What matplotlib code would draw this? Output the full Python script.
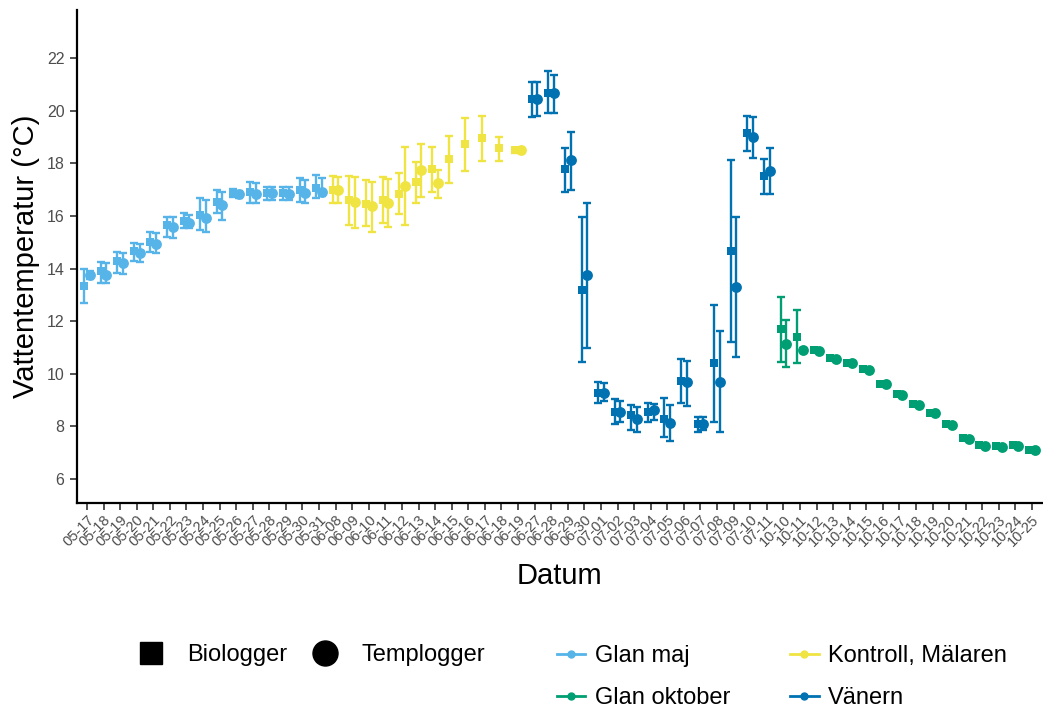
import numpy as np
import matplotlib
matplotlib.use("Agg")
import matplotlib.pyplot as plt
from matplotlib.lines import Line2D

plt.rcParams['font.family'] = ['Liberation Sans', 'DejaVu Sans']

dates = ["05-17", "05-18", "05-19", "05-20", "05-21", "05-22", "05-23", "05-24",
         "05-25", "05-26", "05-27", "05-28", "05-29", "05-30", "05-31",
         "06-08", "06-09", "06-10", "06-11", "06-12", "06-13", "06-14", "06-15",
         "06-16", "06-17", "06-18", "06-19",
         "06-27", "06-28", "06-29", "06-30", "07-01", "07-02", "07-03", "07-04",
         "07-05", "07-06", "07-07", "07-08", "07-09", "07-10", "07-11",
         "10-10", "10-11", "10-12", "10-13", "10-14", "10-15", "10-16", "10-17",
         "10-18", "10-19", "10-20", "10-21", "10-22", "10-23", "10-24", "10-25"]

groups = (["Glan maj"] * 15 + ["Kontroll, Mälaren"] * 12 +
          ["Vänern"] * 15 + ["Glan oktober"] * 16)

nan = np.nan
# Biologger (square)
bio_mean = [13.35, 13.90, 14.30, 14.67, 15.00, 15.66, 15.80, 16.04, 16.54, 16.87, 16.90, 16.87, 16.87, 16.99, 17.06,
            17.00, 16.61, 16.46, 16.61, 16.84, 17.30, 17.79, 18.17, 18.74, 18.95, 18.57, 18.50,
            20.44, 20.67, 17.78, 13.19, 9.26, 8.56, 8.43, 8.56, 8.30, 9.73, 8.09, 10.40, 14.67, 19.14, 17.52,
            11.69, 11.41, 10.90, 10.60, 10.43, 10.18, 9.62, 9.24, 8.86, 8.53, 8.10, 7.56, 7.30, 7.24, 7.28, 7.12]
bio_lo = [12.70, 13.45, 13.85, 14.30, 14.65, 15.20, 15.55, 15.45, 16.10, 16.72, 16.50, 16.60, 16.60, 16.55, 16.70,
          16.49, 15.66, 15.62, 15.73, 16.08, 16.50, 16.92, 17.27, 17.72, 18.10, 18.09, 18.40,
          19.75, 19.90, 16.92, 10.46, 8.89, 8.09, 7.85, 8.18, 7.59, 8.88, 7.80, 8.18, 11.22, 18.48, 16.84,
          10.46, 10.40, 10.86, 10.56, 10.39, 10.14, 9.58, 9.20, 8.82, 8.49, 8.06, 7.52, 7.26, 7.20, 7.24, 7.08]
bio_hi = [14.00, 14.25, 14.65, 14.97, 15.40, 15.97, 16.10, 16.70, 17.00, 17.02, 17.30, 17.10, 17.10, 17.44, 17.56,
          17.52, 17.52, 17.37, 17.48, 17.63, 18.07, 18.62, 19.04, 19.71, 19.81, 18.99, 18.60,
          21.10, 21.50, 18.60, 15.97, 9.70, 9.03, 8.81, 8.88, 9.07, 10.55, 8.37, 12.62, 18.13, 19.80, 18.16,
          12.91, 12.43, 10.94, 10.64, 10.47, 10.22, 9.66, 9.28, 8.90, 8.57, 8.14, 7.60, 7.34, 7.28, 7.32, 7.16]
# Templogger (circle)
temp_mean = [13.75, 13.75, 14.20, 14.60, 14.95, 15.60, 15.75, 15.92, 16.42, 16.83, 16.85, 16.87, 16.85, 16.87, 16.90,
             17.00, 16.54, 16.38, 16.50, 17.14, 17.75, 17.25, nan, nan, nan, nan, 18.50,
             20.44, 20.67, 18.13, 13.76, 9.26, 8.56, 8.30, 8.62, 8.14, 9.68, 8.09, 9.70, 13.31, 18.99, 17.71,
             11.13, 10.92, 10.87, 10.57, 10.40, 10.15, 9.60, 9.21, 8.83, 8.50, 8.07, 7.53, 7.27, 7.22, 7.25, 7.09]
temp_lo = [13.60, 13.45, 13.80, 14.25, 14.60, 15.16, 15.55, 15.40, 15.85, 16.70, 16.50, 16.60, 16.60, 16.50, 16.75,
           16.50, 15.54, 15.40, 15.60, 15.66, 16.73, 16.68, nan, nan, nan, nan, 18.40,
           19.80, 19.93, 16.99, 10.97, 8.95, 8.15, 7.80, 8.25, 7.46, 8.78, 7.85, 7.80, 10.65, 18.19, 16.84,
           10.27, 10.87, 10.83, 10.53, 10.36, 10.11, 9.56, 9.17, 8.79, 8.46, 8.03, 7.49, 7.23, 7.18, 7.21, 7.05]
temp_hi = [13.90, 14.20, 14.60, 14.95, 15.35, 15.95, 16.05, 16.60, 16.90, 16.96, 17.25, 17.10, 17.10, 17.35, 17.45,
           17.50, 17.48, 17.30, 17.42, 18.62, 18.74, 17.75, nan, nan, nan, nan, 18.60,
           21.10, 21.36, 19.21, 16.50, 9.65, 8.95, 8.75, 8.85, 8.81, 10.49, 8.35, 11.63, 15.97, 19.75, 18.57,
           12.05, 10.97, 10.91, 10.61, 10.44, 10.19, 9.64, 9.25, 8.87, 8.54, 8.11, 7.57, 7.31, 7.26, 7.29, 7.13]

group_order = ["Glan maj", "Glan oktober", "Kontroll, Mälaren", "Vänern"]
colors = {"Glan maj": "#56B4E9", "Kontroll, Mälaren": "#F0E442",
          "Glan oktober": "#009E73", "Vänern": "#0072B2"}

loggers = [("Biologger", "s", -0.17, bio_mean, bio_lo, bio_hi, 6.3),
           ("Templogger", "o", 0.17, temp_mean, temp_lo, temp_hi, 7.8)]

W, H, DPI = 1043, 713, 100
fig = plt.figure(figsize=(W / DPI, H / DPI), dpi=DPI)
ax = fig.add_axes([77 / W, 1 - 503 / H, (1042 - 77) / W, (503 - 10) / H])

x = np.arange(len(dates))
g = np.array(groups)
for name, marker, off, mean, lo, hi, ms in loggers:
    mean = np.array(mean); lo = np.array(lo); hi = np.array(hi)
    for grp in group_order:
        m = (g == grp) & ~np.isnan(mean)
        if not m.any():
            continue
        c = colors[grp]
        ax.errorbar(x[m] + off, mean[m], yerr=[mean[m] - lo[m], hi[m] - mean[m]],
                    fmt='none', ecolor=c, elinewidth=1.7, capsize=2.7, capthick=1.7, zorder=2)
for name, marker, off, mean, lo, hi, ms in loggers:
    mean = np.array(mean)
    for grp in group_order:
        m = (g == grp) & ~np.isnan(mean)
        if not m.any():
            continue
        ax.plot(x[m] + off, mean[m], linestyle='none', marker=marker, ms=ms,
                color=colors[grp], markeredgewidth=0, zorder=3)

ax.set_xlim(-0.6, len(dates) - 1 + 0.6)
ax.set_ylim(5.09, 23.83)
ax.set_xticks(x)
ax.set_xticklabels(dates, rotation=45, ha='right', rotation_mode='anchor')
ax.set_yticks([6, 8, 10, 12, 14, 16, 18, 20, 22])
for s in ['top', 'right']:
    ax.spines[s].set_visible(False)
for s in ['left', 'bottom']:
    ax.spines[s].set_linewidth(1.6)
    ax.spines[s].set_color('black')
ax.tick_params(axis='both', length=5, width=1.2, color='#333333', labelcolor='#4D4D4D')
ax.tick_params(axis='x', labelsize=10.5, pad=2)
ax.tick_params(axis='y', labelsize=11.5, pad=4)
ax.set_ylabel("Vattentemperatur (°C)", fontsize=21, color='black', labelpad=5)
ax.set_xlabel("Datum", fontsize=21, color='black', labelpad=9)

FS = 17
shape_handles = [Line2D([], [], marker='s', color='black', linestyle='none', markersize=16),
                 Line2D([], [], marker='o', color='black', linestyle='none', markersize=18)]
leg1 = fig.legend(shape_handles, ["Biologger", "Templogger"], ncol=2, frameon=False,
                  loc='center left', bbox_to_anchor=(127 / W, 1 - 655 / H), borderpad=0,
                  fontsize=FS, handletextpad=1.05, columnspacing=1.1, handlelength=1.0)

color_labels = ["Glan maj", "Glan oktober", "Kontroll, Mälaren", "Vänern"]
color_handles = [Line2D([], [], color=colors[c], lw=2, marker='o', markersize=5) for c in color_labels]
leg2 = fig.legend(color_handles, color_labels, ncol=2, frameon=False,
                  loc='center left', bbox_to_anchor=(545 / W, 1 - 677 / H), borderpad=0,
                  fontsize=FS, handletextpad=0.4, columnspacing=2.55, handlelength=1.2,
                  labelspacing=0.85)

fig.savefig("out.png", dpi=DPI)
